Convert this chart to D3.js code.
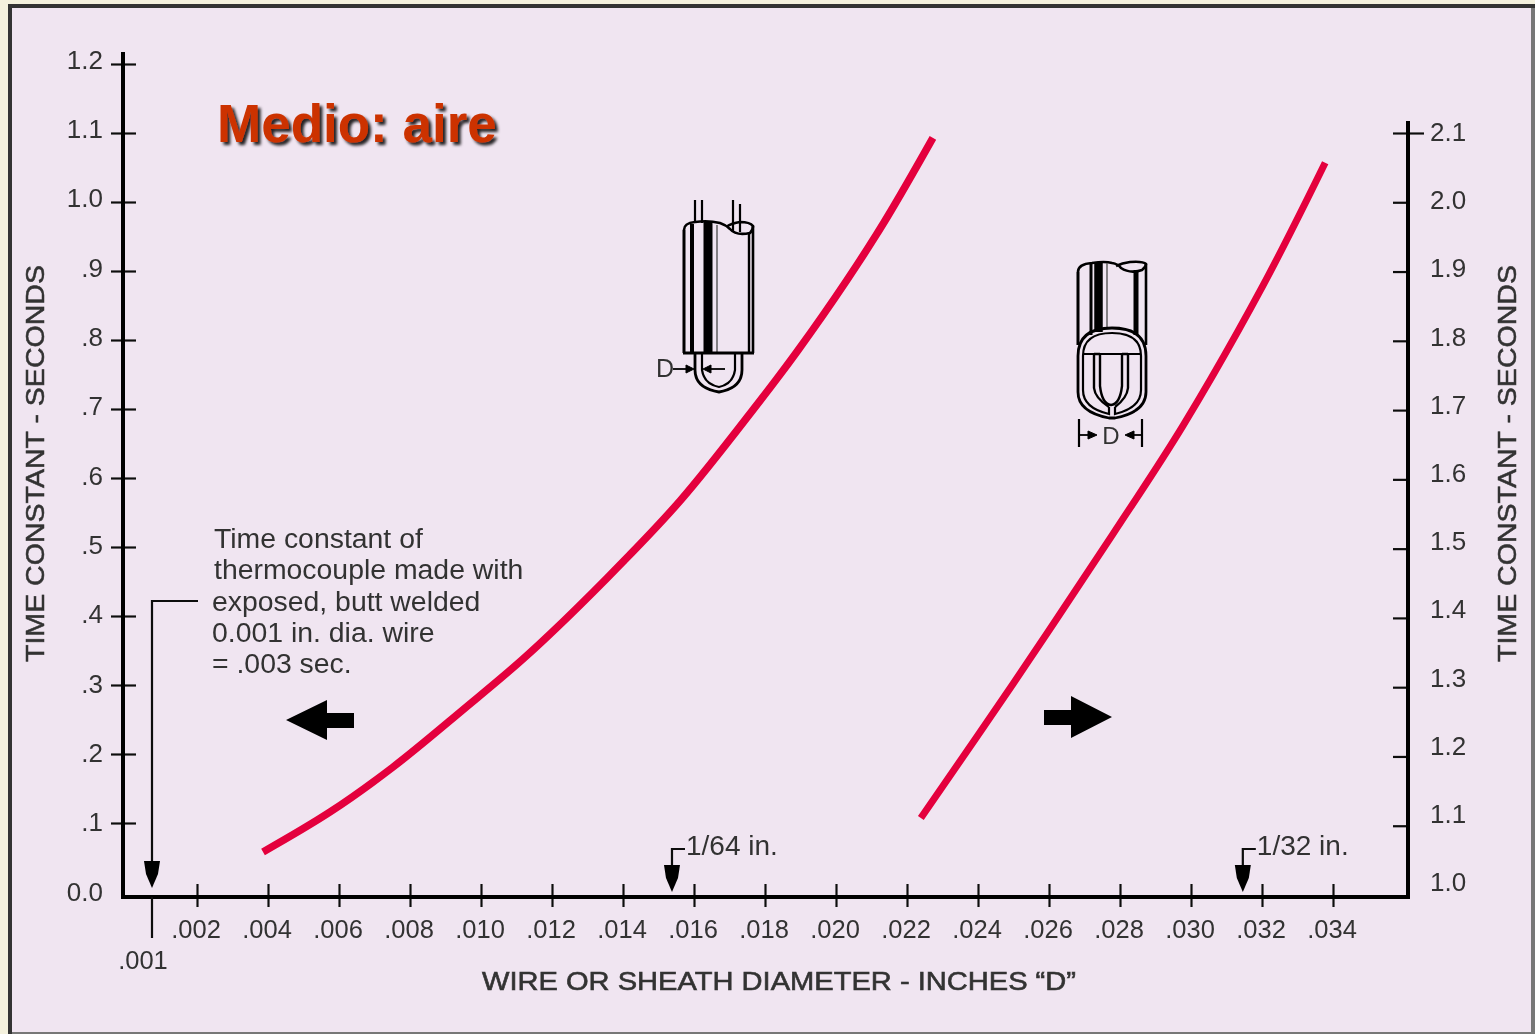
<!DOCTYPE html>
<html><head><meta charset="utf-8">
<script src="https://cdn.jsdelivr.net/npm/d3@7/dist/d3.min.js"></script>
<style>
html,body{margin:0;padding:0;background:#f4f1dd;overflow:hidden}
svg{display:block}
text{font-family:"Liberation Sans",Arial,sans-serif;fill:#333}
</style></head><body>
<svg id="c" width="1535" height="1034"></svg>
<script>
const xTicks=[.002,.004,.006,.008,.010,.012,.014,.016,.018,.020,.022,.024,.026,.028,.030,.032,.034];
const xTickLabels=[".002",".004",".006",".008",".010",".012",".014",".016",".018",".020",".022",".024",".026",".028",".030",".032",".034"];
const leftTicks=[0,.1,.2,.3,.4,.5,.6,.7,.8,.9,1.0,1.1,1.2];
const leftTickLabels=["0.0",".1",".2",".3",".4",".5",".6",".7",".8",".9","1.0","1.1","1.2"];
const rightTicks=[1.1,1.2,1.3,1.4,1.5,1.6,1.7,1.8,1.9,2.0,2.1];
const rightLabelValues=[1.0,1.1,1.2,1.3,1.4,1.5,1.6,1.7,1.8,1.9,2.0,2.1];
const leftCurveX=[.00386,.00575,.00752,.00949,.0113,.01355,.01561,.01777,.0189,.02031,.02144,.02273];
const leftCurveY=[.058,.116,.181,.264,.343,.455,.567,.706,.783,.887,.978,1.093];
const rightCurveX=[.02239,.02499,.0278,.02978,.03203,.03378];
const rightCurveY=[1.111,1.305,1.521,1.678,1.88,2.057];
const noteLines=["Time constant of","thermocouple made with","exposed, butt welded","0.001 in. dia. wire","= .003 sec."];
const sizeMarks=[{v:.01538,label:"1/64 in."},{v:.03146,label:"1/32 in."}];

const svg=d3.select("#c");
const defs=svg.append("defs");
defs.append("filter").attr("id","soft").append("feGaussianBlur").attr("stdDeviation",0.55);
const sh=defs.append("filter").attr("id","tshadow").attr("x","-5%").attr("y","-10%").attr("width","110%").attr("height","130%");
sh.append("feDropShadow").attr("dx",3).attr("dy",3).attr("stdDeviation",1.5).attr("flood-color","#000").attr("flood-opacity",.85);

// frame
svg.append("rect").attr("x",8).attr("y",4).attr("width",1530).attr("height",1040).attr("fill","#333");
svg.append("rect").attr("x",12).attr("y",8).attr("width",1519).attr("height",1024).attr("fill","#f0e5f1");
svg.append("rect").attr("x",12).attr("y",1032).attr("width",1523).attr("height",2).attr("fill","#777");
svg.append("rect").attr("x",1531).attr("y",8).attr("width",4).attr("height",1026).attr("fill","#777");

const g=svg.append("g").attr("filter","url(#soft)");
const x=d3.scaleLinear().domain([.001,.002,.034]).range([152,197,1333]);
const y=d3.scaleLinear().domain([0,1.2]).range([892,64]);
const yLabel=d3.scaleLinear().domain([0,1.2]).range([891,59]);
const y2=d3.scaleLinear().domain([1,2.1]).range([895,133]);
const y2Label=d3.scaleLinear().domain([1,2.1]).range([882,132]);
const FS=26;

// left axis
const axL=g.append("g").attr("transform","translate(123,0)").call(
  d3.axisLeft(y).tickValues(leftTicks).tickFormat((d,i)=>leftTickLabels[i]).tickSize(0));
axL.select(".domain").remove();
axL.selectAll(".tick").filter(d=>d===0).select("line").remove();
axL.selectAll(".tick line").attr("x1",-12).attr("x2",13).attr("stroke","#111").attr("stroke-width",2.2);
axL.selectAll(".tick text").attr("x",-20).attr("dy","0.35em").attr("y",d=>yLabel(d)-y(d)).attr("font-size",FS).attr("text-anchor","end").style("font-family",'"Liberation Sans"').style("fill","#333");
g.append("line").attr("x1",123).attr("x2",123).attr("y1",52).attr("y2",899).attr("stroke","#000").attr("stroke-width",4);

// right axis
const axR=g.append("g").attr("transform","translate(1408,0)").call(
  d3.axisRight(y2).tickValues(rightTicks).tickFormat("").tickSize(0));
axR.select(".domain").remove();
axR.selectAll(".tick line").attr("x1",-15).attr("x2",d=>d===2.1?16:0).attr("stroke","#111").attr("stroke-width",2.2);
g.append("line").attr("x1",1408).attr("x2",1408).attr("y1",121).attr("y2",899).attr("stroke","#000").attr("stroke-width",4);
g.append("g").selectAll("text").data(rightLabelValues).join("text")
  .attr("x",1430).attr("y",d=>y2Label(d)).attr("dy","0.35em").attr("font-size",FS).text(d=>d.toFixed(1));

// x axis
const axB=g.append("g").attr("transform","translate(0,897)").call(
  d3.axisBottom(x).tickValues(xTicks).tickFormat((d,i)=>xTickLabels[i]).tickSize(0));
axB.select(".domain").remove();
axB.selectAll(".tick line").attr("y1",-13).attr("y2",10).attr("stroke","#111").attr("stroke-width",2.2);
axB.selectAll(".tick text").attr("x",-1.5).attr("y",32).attr("dy","0.35em").attr("font-size",25.5).style("font-family",'"Liberation Sans"').style("fill","#333");
g.append("line").attr("x1",121).attr("x2",1410).attr("y1",897).attr("y2",897).attr("stroke","#000").attr("stroke-width",4);

// .001 tick + leader
const x001=x(.001);
g.append("line").attr("x1",x001).attr("x2",x001).attr("y1",897).attr("y2",938).attr("stroke","#111").attr("stroke-width",2.2);
g.append("text").attr("x",x001-9).attr("y",960).attr("dy","0.35em").attr("text-anchor","middle").attr("font-size",25.5).text(".001");
g.append("path").attr("d",`M198,601H${x001}V870`).attr("fill","none").attr("stroke","#111").attr("stroke-width",2.2);
function downArrow(px,tip){g.append("path").attr("d",`M${px-8},${tip-27}H${px+8}L${px+6},${tip-14}L${px},${tip}L${px-6},${tip-14}Z`).attr("fill","#000");}
downArrow(x001,888);

// size marks
sizeMarks.forEach(m=>{
  const px=x(m.v);
  g.append("path").attr("d",`M${px+13},849H${px}V870`).attr("fill","none").attr("stroke","#111").attr("stroke-width",2.2);
  downArrow(px,892);
  g.append("text").attr("x",px+14).attr("y",855).attr("font-size",28).text(m.label);
});

// curves
const line=d3.line().curve(d3.curveCatmullRom.alpha(.5));
function curve(xs,ys,sc,w){
  g.append("path").attr("d",line(xs.map((v,i)=>[x(v),sc(ys[i])]))).attr("fill","none")
   .attr("stroke","#e4063c").attr("stroke-width",w);
}
curve(leftCurveX,leftCurveY,y,7.5);
curve(rightCurveX,rightCurveY,y2,7);

// axis titles
g.append("text").attr("transform","translate(44,662) rotate(-90)").attr("font-size",FS).attr("textLength",397).attr("lengthAdjust","spacingAndGlyphs").attr("stroke","#333").attr("stroke-width",.5).text("TIME CONSTANT - SECONDS");
g.append("text").attr("transform","translate(1516,662) rotate(-90)").attr("font-size",FS).attr("textLength",397).attr("lengthAdjust","spacingAndGlyphs").attr("stroke","#333").attr("stroke-width",.5).text("TIME CONSTANT - SECONDS");
g.append("text").attr("x",482).attr("y",990).attr("font-size",FS).attr("textLength",594).attr("lengthAdjust","spacingAndGlyphs").attr("stroke","#333").attr("stroke-width",.6).text("WIRE OR SHEATH DIAMETER - INCHES \u201CD\u201D");

// note
const noteX=[214,214,212,212,212];
g.append("g").selectAll("text").data(noteLines).join("text")
  .attr("x",(d,i)=>noteX[i]).attr("y",(d,i)=>548+i*31.3).attr("font-size",28.4).text(d=>d);

// big arrows
g.append("path").attr("d","M286,720L327,700V713H354V728H327V740Z").attr("fill","#000");
g.append("path").attr("d","M1112,717L1071,696V710H1044V725H1071V738Z").attr("fill","#000");

// sensor sketches
const k="#000";
function P(d,w,c,f){g.append("path").attr("d",d).attr("fill",f||"none").attr("stroke",c||k).attr("stroke-width",w);}
function V(px,a,b,w,c){P(`M${px},${a}V${b}`,w,c);}
// left sensor
V(695,200,223,2.2);V(702,200,223,2.2);V(733,200,232,2.2);V(740,204,232,2.2);
P("M684,353V230Q684,223 695,222Q708,220 720,223Q726,225 730,229Q736,236 750,233Q753,230 753,226Q750,222 740,222Q732,223 726,227",2.6);
V(753,226,353,2.6);V(684,230,353,2.6);
V(692,224,353,4);V(708,222,353,9);V(717,225,353,1.4,"#555");V(749,232,353,2.4);
P("M683,353H754",3.2);
P("M695,353V370Q695,388 719,392Q742,388 742,370V353",2.8);
P("M702,353V370Q704,384 719,387Q733,384 735,370V353",2.2);
g.append("text").attr("x",656).attr("y",377).attr("font-size",25).text("D");
P("M673,369H686",1.8);P("M686,365L694,369L686,373Z",1,k,k);
P("M725,369H711",1.8);P("M711,365L703,369L711,373Z",1,k,k);
// right sensor
P("M1078,345V272Q1078,264 1092,263Q1105,261 1112,263Q1118,264 1121,268Q1130,274 1142,270Q1146,267 1146,264Q1143,261 1130,262Q1122,263 1116,266",2.6);
V(1146,264,345,2.6);V(1078,272,345,2.6);
V(1091,263,335,3);V(1098.5,262,332,8.5);V(1107,263,329,1.4,"#555");V(1136,270,335,5);
P("M1078,356Q1078,328 1112,328Q1146,328 1146,356V392Q1146,412 1115,418H1109Q1078,412 1078,392Z",2.8);
P("M1083,356Q1083,333 1112,333Q1141,333 1141,356V390Q1141,408 1115,414V407M1109,407V414Q1083,408 1083,390V356",2.2);
P("M1083,354H1141",1.8);
P("M1094,354V388Q1095,398 1109,407M1128,354V388Q1127,398 1115,407",2.4);
P("M1100,354V386Q1102,404 1111,405Q1120,404 1122,386V354M1094,354H1100M1122,354H1128",2.4);
V(1079,419,447,2.2);V(1142,419,447,2.2);
g.append("text").attr("x",1111).attr("y",444).attr("text-anchor","middle").attr("font-size",24).text("D");
P("M1080,435H1090",1.8);P("M1088,431L1097,435L1088,439Z",1,k,k);
P("M1141,435H1132",1.8);P("M1134,431L1125,435L1134,439Z",1,k,k);

// headline
svg.append("text").attr("x",217).attr("y",142).attr("font-size",53).attr("font-weight",700)
  .attr("filter","url(#tshadow)").style("fill","#cc3300").text("Medio: aire");
</script>
</body></html>
